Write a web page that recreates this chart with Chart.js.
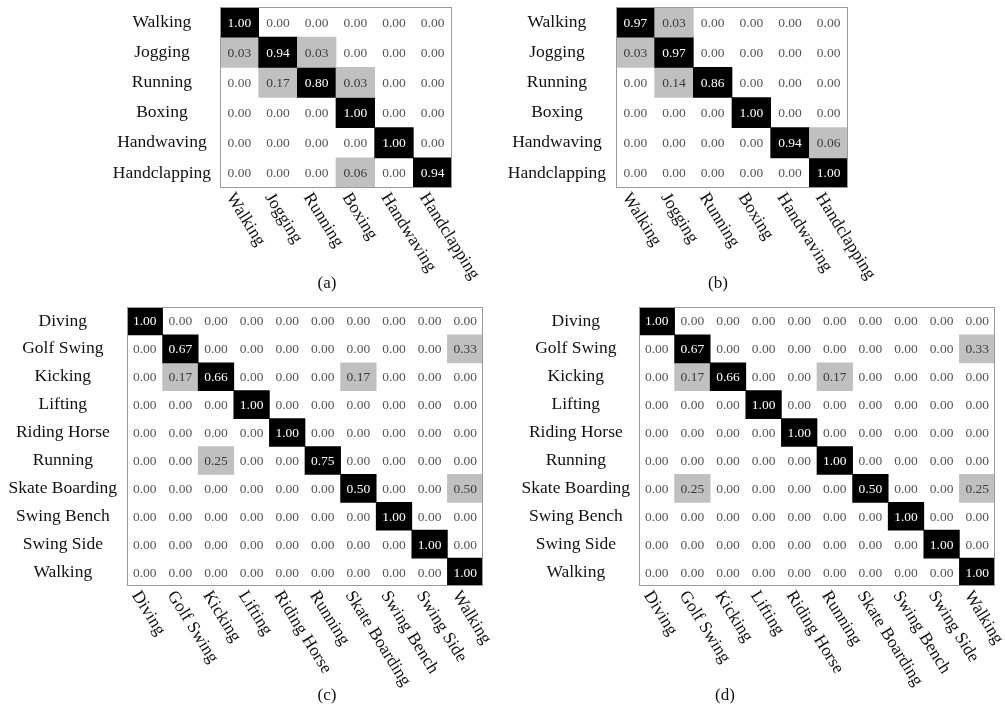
<!DOCTYPE html>
<html>
<head>
<meta charset="utf-8">
<script src="https://cdn.jsdelivr.net/npm/chart.js@4.4.1/dist/chart.umd.min.js"></script>
<style>
  html, body { margin:0; padding:0; background:#fff; }
  body { width:1005px; height:704px; position:relative; overflow:hidden; font-family:"Liberation Serif","Times New Roman",serif; }
  .panel { position:absolute; }
  .cap { position:absolute; font-size:17px; color:#111; transform:translate(-50%,-50%); white-space:nowrap; }
</style>
</head>
<body>

<div class="panel" id="pa"><canvas id="chartA"></canvas></div>
<div class="panel" id="pb"><canvas id="chartB"></canvas></div>
<div class="panel" id="pc"><canvas id="chartC"></canvas></div>
<div class="panel" id="pd"><canvas id="chartD"></canvas></div>

<div class="cap" style="left:327px; top:283px">(a)</div>
<div class="cap" style="left:718px; top:283px">(b)</div>
<div class="cap" style="left:327px; top:695px">(c)</div>
<div class="cap" style="left:725px; top:695px">(d)</div>

<script>
// KTH actions
const kthLabels = ["Walking","Jogging","Running","Boxing","Handwaving","Handclapping"];
const kthA = [
  [1.00, 0.00, 0.00, 0.00, 0.00, 0.00],
  [0.03, 0.94, 0.03, 0.00, 0.00, 0.00],
  [0.00, 0.17, 0.80, 0.03, 0.00, 0.00],
  [0.00, 0.00, 0.00, 1.00, 0.00, 0.00],
  [0.00, 0.00, 0.00, 0.00, 1.00, 0.00],
  [0.00, 0.00, 0.00, 0.06, 0.00, 0.94]
];
const kthB = [
  [0.97, 0.03, 0.00, 0.00, 0.00, 0.00],
  [0.03, 0.97, 0.00, 0.00, 0.00, 0.00],
  [0.00, 0.14, 0.86, 0.00, 0.00, 0.00],
  [0.00, 0.00, 0.00, 1.00, 0.00, 0.00],
  [0.00, 0.00, 0.00, 0.00, 0.94, 0.06],
  [0.00, 0.00, 0.00, 0.00, 0.00, 1.00]
];

// UCF sports
const ucfLabels = ["Diving","Golf Swing","Kicking","Lifting","Riding Horse","Running","Skate Boarding","Swing Bench","Swing Side","Walking"];
const ucfC = [
  [1.00, 0.00, 0.00, 0.00, 0.00, 0.00, 0.00, 0.00, 0.00, 0.00],
  [0.00, 0.67, 0.00, 0.00, 0.00, 0.00, 0.00, 0.00, 0.00, 0.33],
  [0.00, 0.17, 0.66, 0.00, 0.00, 0.00, 0.17, 0.00, 0.00, 0.00],
  [0.00, 0.00, 0.00, 1.00, 0.00, 0.00, 0.00, 0.00, 0.00, 0.00],
  [0.00, 0.00, 0.00, 0.00, 1.00, 0.00, 0.00, 0.00, 0.00, 0.00],
  [0.00, 0.00, 0.25, 0.00, 0.00, 0.75, 0.00, 0.00, 0.00, 0.00],
  [0.00, 0.00, 0.00, 0.00, 0.00, 0.00, 0.50, 0.00, 0.00, 0.50],
  [0.00, 0.00, 0.00, 0.00, 0.00, 0.00, 0.00, 1.00, 0.00, 0.00],
  [0.00, 0.00, 0.00, 0.00, 0.00, 0.00, 0.00, 0.00, 1.00, 0.00],
  [0.00, 0.00, 0.00, 0.00, 0.00, 0.00, 0.00, 0.00, 0.00, 1.00]
];
const ucfD = [
  [1.00, 0.00, 0.00, 0.00, 0.00, 0.00, 0.00, 0.00, 0.00, 0.00],
  [0.00, 0.67, 0.00, 0.00, 0.00, 0.00, 0.00, 0.00, 0.00, 0.33],
  [0.00, 0.17, 0.66, 0.00, 0.00, 0.17, 0.00, 0.00, 0.00, 0.00],
  [0.00, 0.00, 0.00, 1.00, 0.00, 0.00, 0.00, 0.00, 0.00, 0.00],
  [0.00, 0.00, 0.00, 0.00, 1.00, 0.00, 0.00, 0.00, 0.00, 0.00],
  [0.00, 0.00, 0.00, 0.00, 0.00, 1.00, 0.00, 0.00, 0.00, 0.00],
  [0.00, 0.25, 0.00, 0.00, 0.00, 0.00, 0.50, 0.00, 0.00, 0.25],
  [0.00, 0.00, 0.00, 0.00, 0.00, 0.00, 0.00, 1.00, 0.00, 0.00],
  [0.00, 0.00, 0.00, 0.00, 0.00, 0.00, 0.00, 0.00, 1.00, 0.00],
  [0.00, 0.00, 0.00, 0.00, 0.00, 0.00, 0.00, 0.00, 0.00, 1.00]
];

const FONT = '"Liberation Serif","Times New Roman",serif';
const DARK = "#000000", GREY = "#c0c0c0";

function cellColor(v, i, j){
  if(i === j) return DARK;          // diagonal = correct class
  return v > 0 ? GREY : "rgba(0,0,0,0)";
}

// box border, cell numbers and slanted column names
const matrixDeco = {
  id: "matrixDeco",
  afterDatasetsDraw(chart, args, opts){
    const {ctx, chartArea: a, scales:{x, y}} = chart;
    const m = opts.matrix, labels = opts.labels;
    ctx.save();
    ctx.strokeStyle = "#9a9a9a";
    ctx.lineWidth = 1;
    ctx.strokeRect(Math.round(a.left)+0.5, Math.round(a.top)+0.5, Math.round(a.right-a.left)-1, Math.round(a.bottom-a.top)-1);

    ctx.font = `13.5px ${FONT}`;
    ctx.textAlign = "center";
    ctx.textBaseline = "middle";
    m.forEach((row, i)=>{
      const cy = y.getPixelForValue(i + 0.5);
      row.forEach((v, j)=>{
        const cx = x.getPixelForValue(j);
        ctx.fillStyle = i===j ? "#ffffff" : (v > 0 ? "#3a3a3a" : "#555555");
        ctx.fillText(v.toFixed(2), cx, cy + 1);
      });
    });

    ctx.font = `17.5px ${FONT}`;
    ctx.fillStyle = "#111";
    ctx.textAlign = "left";
    ctx.textBaseline = "top";
    labels.forEach((lab, j)=>{
      const cx = x.getPixelForValue(j);
      ctx.save();
      ctx.translate(cx - 2, a.bottom + 2);
      ctx.rotate(58 * Math.PI / 180);
      ctx.fillText(lab, 0, 0);
      ctx.restore();
    });
    ctx.restore();
  }
};

function drawMatrix(canvasId, wrapId, box, labels, matrix, yW, xH, tickPad){
  const n = labels.length;
  const wrap = document.getElementById(wrapId);
  const W = yW + box.w + 45;
  const H = box.h + xH + 1;
  wrap.style.left = (box.x - yW) + "px";
  wrap.style.top = (box.y - 1) + "px";
  wrap.style.width = W + "px";
  wrap.style.height = H + "px";

  const datasets = matrix.map((row, i)=>({
    data: row.map(()=> [i, i + 1]),
    backgroundColor: row.map((v, j)=> cellColor(v, i, j)),
    borderWidth: 0,
    barPercentage: 1,
    categoryPercentage: 1,
    grouped: false
  }));

  return new Chart(document.getElementById(canvasId), {
    type: "bar",
    data: { labels: labels, datasets },
    options: {
      responsive: true,
      maintainAspectRatio: false,
      animation: false,
      layout: { padding: { top: 1, right: W - yW - box.w, left: 0, bottom: 0 } },
      plugins: {
        legend: { display: false },
        tooltip: { enabled: false },
        matrixDeco: { matrix, labels }
      },
      scales: {
        x: {
          type: "category",
          offset: true,
          grid: { display: false, drawTicks: false },
          border: { display: false },
          ticks: { display: false },
          afterFit: s => { s.height = xH; s.paddingLeft = 0; s.paddingRight = 0; }
        },
        y: {
          type: "linear",
          min: 0, max: n,
          reverse: true,
          grid: { display: false, drawTicks: false },
          border: { display: false },
          afterBuildTicks: s => { s.ticks = labels.map((_, i)=> ({ value: i + 0.5 })); },
          // labels sit mid-cell, so no extra room is needed above/below
          afterFit: s => { s.width = yW; s.paddingTop = 0; s.paddingBottom = 0; },
          ticks: {
            autoSkip: false,
            crossAlign: "center",
            padding: tickPad,
            color: "#111",
            font: { family: FONT, size: 17.5 },
            callback: v => labels[Math.floor(v)]
          }
        }
      }
    },
    plugins: [matrixDeco]
  });
}

drawMatrix("chartA", "pa", {x:220, y:7, w:232, h:181}, kthLabels, kthA, 120, 100, 9);
drawMatrix("chartB", "pb", {x:616, y:7, w:232, h:181}, kthLabels, kthB, 120, 100, 10);
drawMatrix("chartC", "pc", {x:127, y:307, w:356, h:279}, ucfLabels, ucfC, 125, 108, 10);
drawMatrix("chartD", "pd", {x:639, y:307, w:356, h:279}, ucfLabels, ucfD, 125, 108, 9);
</script>
</body>
</html>
